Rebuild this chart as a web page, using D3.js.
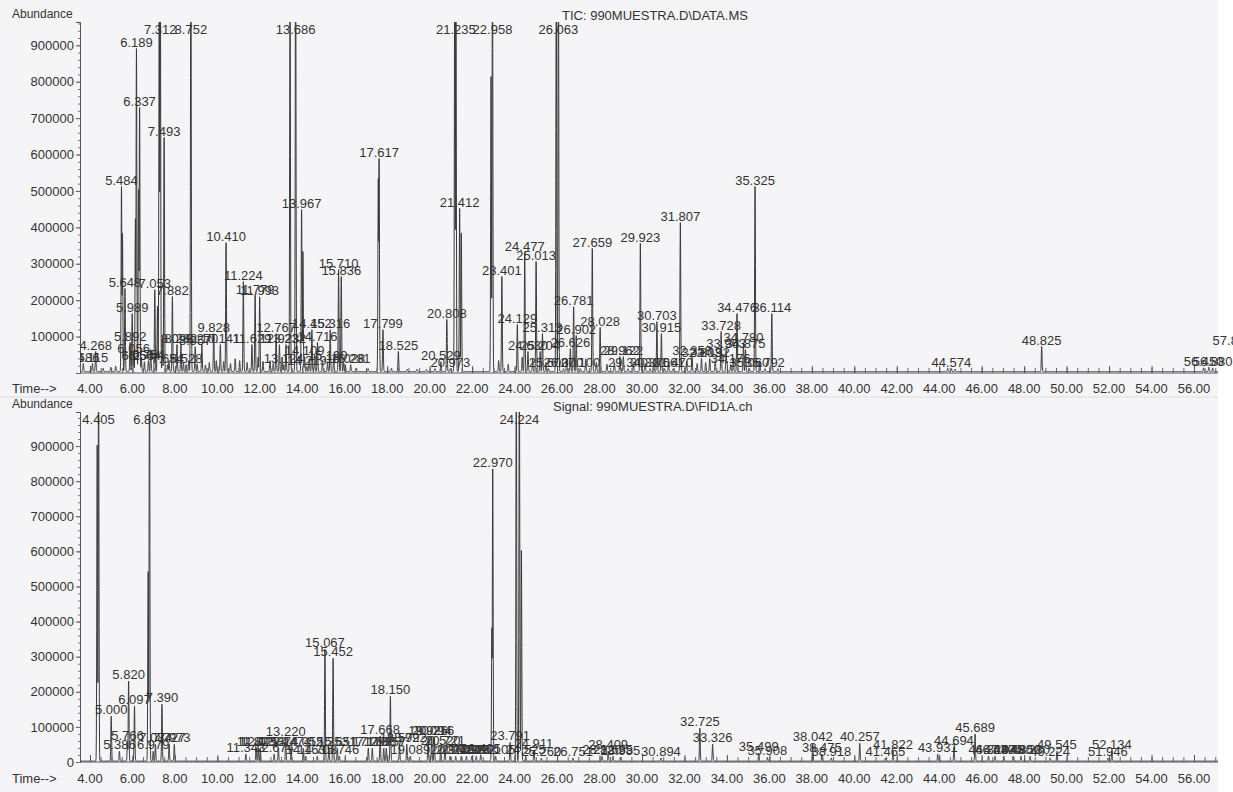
<!DOCTYPE html>
<html>
<head>
<meta charset="utf-8">
<script src="https://cdn.jsdelivr.net/npm/d3@7/dist/d3.min.js"></script>
<style>
  body { margin: 0; background: #fff; }
  text { font-family: "Liberation Sans", Arial, sans-serif; fill: #333; }
</style>
</head>
<body>
<svg id="chart" width="1233" height="792"></svg>
<script>
// TIC (top) : labelled peaks, retention time (min) and abundance
const ticTimes = [3.686, 4.115, 4.268, 5.484, 5.648, 5.892, 5.989, 6.056, 6.189, 6.254, 6.337, 6.564, 6.754,
  7.053, 7.312, 7.493, 7.654, 7.882, 8.098, 8.282, 8.528, 8.752, 8.957, 9.270, 9.828, 10.141, 10.410,
  11.224, 11.629, 11.779, 11.993, 12.767, 12.923, 13.124, 13.232, 13.686, 13.967, 14.109, 14.219, 14.452,
  14.716, 15.190, 15.316, 15.710, 15.836, 16.028, 16.281, 17.617, 17.799, 18.525, 20.529, 20.808, 20.973,
  21.235, 21.412, 22.958, 23.401, 24.129, 24.477, 24.630, 25.013, 25.204, 25.313, 25.600, 26.063, 26.300,
  26.626, 26.781, 26.902, 27.100, 27.659, 28.028, 28.962, 29.122, 29.340, 29.923, 30.376, 30.703, 30.915,
  31.061, 31.470, 31.807, 32.358, 32.803, 33.192, 33.728, 33.963, 34.176, 34.476, 34.780, 34.875, 35.060,
  35.325, 35.792, 36.114, 44.574, 48.825, 56.450, 56.880, 57.812];
const ticHeights = [22000, 22000, 55000, 508000, 228000, 80000, 159000, 47000, 887000, 27000, 725000, 27000, 30000,
  225000, 1200000, 643000, 19000, 206000, 74000, 74000, 19000, 1200000, 68000, 74000, 104000, 74000, 354000,
  247000, 74000, 210000, 205000, 104000, 74000, 19000, 74000, 1200000, 445000, 41000, 14000, 115000,
  80000, 27000, 115000, 280000, 261000, 19000, 19000, 585000, 115000, 55000, 27000, 143000, 8000,
  1200000, 448000, 1200000, 261000, 129000, 327000, 55000, 302000, 55000, 104000, 8000, 1200000, 8000,
  63000, 178000, 99000, 8000, 338000, 121000, 41000, 41000, 8000, 352000, 8000, 137000, 104000,
  8000, 8000, 409000, 41000, 36000, 36000, 110000, 60000, 19000, 159000, 77000, 60000, 8000,
  508000, 8000, 159000, 8000, 69000, 10000, 10000, 69000];
// TIC shoulders and small unlabelled peaks
const ticExtraTimes = [4.62, 4.98, 5.21, 5.530, 6.140, 6.290, 6.42, 6.86, 7.180, 7.262, 7.41, 7.72, 8.40, 8.65,
  9.05, 9.44, 9.62, 9.95, 10.30, 10.62, 10.84, 11.05, 11.40, 11.92, 12.15, 12.48, 12.63, 13.05, 13.424,
  14.030, 14.33, 14.58, 14.95, 15.48, 15.95, 16.55, 17.10, 17.580, 18.20, 18.95, 19.40, 19.85, 20.25, 21.180,
  21.490, 22.890, 23.25, 23.70, 24.36, 24.85, 25.48, 25.962, 26.45, 27.35, 27.85, 28.35, 28.70, 29.60,
  30.15, 30.55, 31.25, 32.10, 32.60, 33.00, 33.45, 34.00, 34.30, 35.55, 36.40, 44.40, 44.75, 56.700];
const ticExtraHeights = [9000, 12000, 15000, 380000, 420000, 500000, 40000, 60000, 180000, 1050000, 90000, 30000, 25000, 30000,
  20000, 18000, 25000, 30000, 28000, 22000, 35000, 30000, 25000, 40000, 28000, 30000, 22000, 40000, 1100000,
  330000, 35000, 45000, 30000, 40000, 25000, 9000, 8000, 530000, 9000, 6000, 6000, 6000, 8000, 1100000,
  380000, 810000, 30000, 20000, 40000, 35000, 25000, 1100000, 30000, 35000, 25000, 20000, 25000, 20000,
  22000, 30000, 25000, 28000, 22000, 25000, 30000, 28000, 35000, 30000, 8000, 9000, 7000, 12000];

// FID signal (bottom) : labelled peaks
const fidTimes = [4.405, 5.000, 5.386, 5.766, 5.820, 6.097, 6.803, 6.979, 7.084, 7.390, 7.727, 7.973,
  11.343, 11.823, 11.925, 12.022, 12.674, 12.874, 13.220, 13.474, 14.052, 14.163, 14.708, 15.067, 15.253,
  15.452, 15.651, 15.746, 17.110, 17.297, 17.668, 17.837, 17.957, 18.150, 18.579, 18.922, 19.089, 19.926,
  20.094, 20.216, 20.520, 20.721, 20.960, 21.225, 21.490, 21.730, 21.985, 22.192, 22.405, 22.970, 23.105,
  23.791, 24.224, 24.525, 24.911, 25.260, 26.751, 28.120, 28.409, 28.635, 28.985, 30.894, 32.725, 33.326,
  35.499, 35.908, 38.042, 38.475, 38.918, 40.257, 41.465, 41.822, 43.931, 44.694, 45.689, 46.320, 46.630,
  47.045, 47.480, 47.850, 48.280, 49.224, 49.545, 51.946, 52.134];
const fidHeights = [1200000, 128000, 28000, 54000, 228000, 157000, 1200000, 28000, 48000, 162000, 48000, 48000,
  20000, 37000, 37000, 37000, 20000, 37000, 65000, 37000, 37000, 14000, 14000, 319000, 37000,
  293000, 37000, 14000, 37000, 37000, 71000, 37000, 37000, 185000, 48000, 48000, 14000, 68000,
  68000, 68000, 40000, 40000, 14000, 14000, 14000, 14000, 14000, 14000, 18000, 832000, 14000,
  54000, 1200000, 14000, 31000, 9000, 9000, 14000, 28000, 14000, 11000, 9000, 94000, 48000,
  23000, 11000, 51000, 20000, 9000, 51000, 9000, 28000, 20000, 40000, 77000, 14000, 14000,
  14000, 14000, 14000, 14000, 9000, 28000, 9000, 28000];
const fidExtraTimes = [4.34, 6.74, 22.930, 24.080, 24.32];
const fidExtraHeights = [900000, 540000, 380000, 1150000, 600000];

const xTickValues = d3.range(4, 57, 2);
const yTickValues = d3.range(0, 1000000, 100000);

const W = 1233, H = 792;
const svg = d3.select("#chart");

svg.append("rect").attr("width", W).attr("height", H).attr("fill", "#fff");
svg.append("rect").attr("width", 1218).attr("height", H).attr("fill", "#f5f5f7");
svg.append("line").attr("x1", 0).attr("x2", 1218).attr("y1", 397).attr("y2", 397)
  .attr("stroke", "#ddd");

const x = d3.scaleLinear().domain([3.53, 57.13]).range([80, 1218]);

const panels = [
  { top: 22, bottom: 373, yMax: 964000, title: "TIC: 990MUESTRA.D\\DATA.MS", titleX: 562, titleY: 20,
    abundY: 18, timeY: 393, showZero: false, base: 4000,
    times: ticTimes, heights: ticHeights, extraT: ticExtraTimes, extraH: ticExtraHeights, id: "a" },
  { top: 412, bottom: 762, yMax: 997000, title: "Signal: 990MUESTRA.D\\FID1A.ch", titleX: 553, titleY: 411,
    abundY: 408, timeY: 783, showZero: true, base: 2500,
    times: fidTimes, heights: fidHeights, extraT: fidExtraTimes, extraH: fidExtraHeights, id: "b" }
];

const sigma = 0.018;

panels.forEach(p => {
  const y = d3.scaleLinear().domain([0, p.yMax]).range([p.bottom, p.top]);
  const g = svg.append("g");

  g.append("clipPath").attr("id", "clip" + p.id)
    .append("rect").attr("x", 80).attr("y", p.top).attr("width", 1138).attr("height", p.bottom - p.top);
  g.append("clipPath").attr("id", "lab" + p.id)
    .append("rect").attr("x", 80).attr("y", p.top - 20).attr("width", W - 80).attr("height", p.bottom - p.top + 20);

  // trace: envelope of narrow gaussian peaks on a flat baseline
  const peaks = p.times.map((t, i) => [t, p.heights[i]])
    .concat(p.extraT.map((t, i) => [t, p.extraH[i]]));
  const grid = d3.range(3.5, 57.2, 0.004).concat(peaks.map(d => d[0])).sort(d3.ascending);
  const trace = grid.map(t => {
    let v = 0;
    for (const [pt, ph] of peaks) {
      const dt = (t - pt) / sigma;
      if (Math.abs(dt) < 6) v = Math.max(v, ph * Math.exp(-0.5 * dt * dt));
    }
    return [t, v + p.base];
  });

  g.append("path")
    .datum(trace)
    .attr("clip-path", `url(#clip${p.id})`)
    .attr("fill", "none")
    .attr("stroke", "#3a3a3a")
    .attr("stroke-width", 1)
    .attr("d", d3.line().x(d => x(d[0])).y(d => y(d[1])));

  // axes
  const yTicks = p.showZero ? yTickValues : yTickValues.slice(1);
  const yAxis = d3.axisLeft(y).tickValues(yTicks).tickSize(4).tickPadding(2).tickFormat(d3.format("d"));
  const ya = g.append("g").attr("transform", "translate(80,0)").call(yAxis);
  ya.select(".domain").attr("stroke", "#555");
  ya.selectAll(".tick line").attr("stroke", "#555");
  ya.selectAll("text").attr("font-size", 13).attr("fill", "#333");
  g.append("g").attr("transform", "translate(80,0)")
    .call(d3.axisLeft(y).tickValues(d3.range(0, p.yMax, 20000)).tickSize(2).tickFormat(""))
    .call(s => s.select(".domain").remove())
    .selectAll("line").attr("stroke", "#777");

  const xAxis = d3.axisTop(x).tickValues(d3.range(4, 57.1, 0.5)).tickSize(5).tickFormat("");
  const xa = g.append("g").attr("transform", `translate(0,${p.bottom})`).call(xAxis);
  xa.select(".domain").attr("stroke", "#555").attr("d", `M80,0H1218`);
  xa.selectAll("line").attr("stroke", "#666");
  g.append("g").attr("transform", `translate(0,${p.bottom})`)
    .call(d3.axisTop(x).tickValues(xTickValues).tickSize(7).tickFormat(""))
    .call(s => s.select(".domain").remove())
    .selectAll("line").attr("stroke", "#555");

  g.selectAll("text.xl").data(xTickValues).join("text").attr("class", "xl")
    .attr("x", d => x(d)).attr("y", p.timeY).attr("text-anchor", "middle")
    .attr("font-size", 13).text(d => d.toFixed(2));

  g.append("text").attr("x", 12).attr("y", p.timeY).attr("font-size", 13).text("Time-->");
  g.append("text").attr("x", 12).attr("y", p.abundY).attr("font-size", 12).text("Abundance");
  g.append("text").attr("x", p.titleX).attr("y", p.titleY).attr("font-size", 13).text(p.title);

  // peak labels
  g.append("g").attr("clip-path", `url(#lab${p.id})`)
    .selectAll("text").data(p.times.map((t, i) => [t, p.heights[i]])).join("text")
    .attr("x", d => x(d[0]))
    .attr("y", d => Math.max(y(d[1]), p.top + 15) - 3)
    .attr("text-anchor", "middle")
    .attr("font-size", 13)
    .text(d => d[0].toFixed(3));
});
</script>
</body>
</html>
